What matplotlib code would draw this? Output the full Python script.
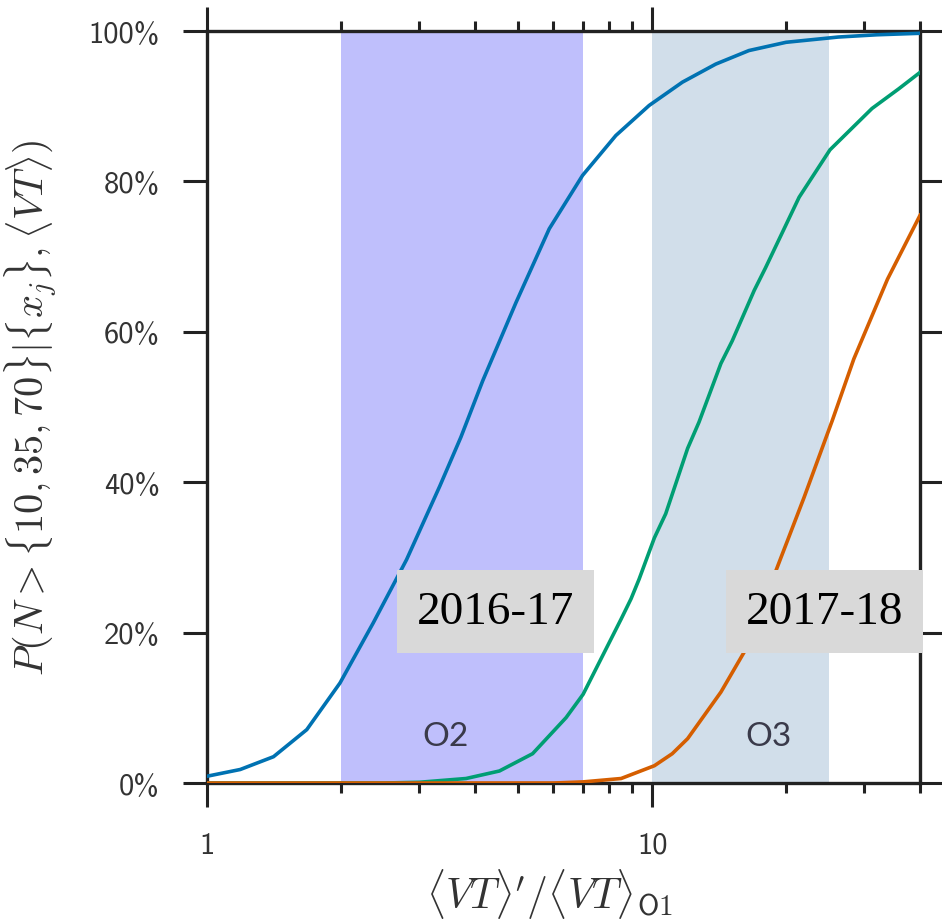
"""Probability of exceeding N detections vs. sensitive volume-time."""

import matplotlib

matplotlib.use("Agg")
import matplotlib.pyplot as plt
from matplotlib.ticker import FixedLocator, FuncFormatter, NullFormatter

plt.rcParams["mathtext.fontset"] = "cm"

# Curves: x = <VT>'/<VT>_O1, y = probability in %
blue_x = [1.0, 1.188, 1.411, 1.676, 1.99, 2.364, 2.808, 3.336, 3.72, 4.165, 4.947, 5.875,
          6.98, 8.29, 9.85, 11.7, 13.9, 16.5, 20.0, 26.2, 32.0, 40.0]
blue_y = [0.9, 1.8, 3.5, 7.1, 13.3, 21.3, 29.7, 39.5, 46.0, 53.5, 63.9, 73.7,
          80.8, 86.1, 90.1, 93.2, 95.6, 97.4, 98.5, 99.2, 99.5, 99.7]

green_x = [1.0, 2.5, 3.0, 3.82, 4.54, 5.39, 6.41, 7.0, 8.52, 8.97, 9.35, 10.12, 10.73,
           12.02, 12.75, 14.28, 15.14, 16.96, 17.98, 21.4, 25.1, 31.2, 35.8, 40.0]
green_y = [0.0, 0.0, 0.1, 0.6, 1.6, 3.9, 8.7, 11.8, 21.8, 24.5, 27.1, 32.6, 35.8,
           44.5, 48.0, 55.8, 58.8, 65.5, 68.5, 77.9, 84.2, 89.7, 92.3, 94.5]

orange_x = [1.0, 6.0, 7.0, 8.52, 10.12, 11.1, 12.02, 14.28, 16.1, 18.8, 21.96, 25.4,
            28.4, 33.8, 40.0]
orange_y = [0.0, 0.0, 0.15, 0.6, 2.3, 3.9, 5.9, 12.1, 17.4, 27.6, 38.0, 48.2,
            56.4, 67.0, 75.5]

# Observing-run bands
runs = ["O2", "O3"]
run_spans = [(2.0, 7.0), (10.0, 25.0)]
run_colors = ["#bfbffc", "#d1deea"]
run_label_x = [3.43, 18.3]

periods = ["2016-17", "2017-18"]
period_x = [4.45, 24.4]

ink = "#222222"

fig = plt.figure(figsize=(9.42, 9.2), dpi=100)
ax = fig.add_axes([0.2197, 0.1478, 0.757, 0.8174])

for (lo, hi), c in zip(run_spans, run_colors):
    ax.axvspan(lo, hi, color=c, lw=0, zorder=0)
for name, xr in zip(runs, run_label_x):
    ax.text(xr, 6.3, name, ha="center", va="center", fontsize=24,
            family="Lato", color="#3a3a4a", zorder=1)

ax.plot(blue_x, blue_y, color="#0072b2", lw=2.6, zorder=3)
ax.plot(green_x, green_y, color="#009e73", lw=2.6, zorder=3)
ax.plot(orange_x, orange_y, color="#d55e00", lw=2.6, zorder=3)

for name, xp in zip(periods, period_x):
    ax.text(xp, 22.8, name, ha="center", va="center", fontsize=34,
            family="Liberation Serif", color="black", zorder=5, clip_on=False,
            bbox=dict(boxstyle="square,pad=0.42", fc="#d9d9d9", ec="none"))

ax.set_xscale("log")
ax.set_xlim(1, 40)
ax.set_ylim(0, 100)

ax.xaxis.set_major_locator(FixedLocator([1, 10]))
ax.xaxis.set_minor_locator(FixedLocator([2, 3, 4, 5, 6, 7, 8, 9, 20, 30, 40]))
ax.xaxis.set_major_formatter(FuncFormatter(lambda v, p: f"{v:g}"))
ax.xaxis.set_minor_formatter(NullFormatter())
ax.set_yticks([0, 20, 40, 60, 80, 100])
ax.yaxis.set_major_formatter(FuncFormatter(lambda v, p: f"{v:.0f}%"))

ax.tick_params(which="both", direction="out", top=True, right=True,
               color=ink, width=2.2)
ax.tick_params(which="major", length=17)
ax.tick_params(which="minor", length=7)
ax.tick_params(axis="x", which="major", pad=18)
ax.tick_params(axis="y", which="major", pad=17)
for lbl in ax.get_xticklabels() + ax.get_yticklabels():
    lbl.set_family("cmss10")
    lbl.set_fontsize(22)
    lbl.set_color("#333333")

for sp in ax.spines.values():
    sp.set_color(ink)
    sp.set_linewidth(2.4)

ax.set_xlabel(r"$\langle VT\rangle'/\langle VT\rangle_{\mathsf{O1}}$", fontsize=30,
              color="#333333")
ax.xaxis.set_label_coords(0.481, -0.11)
ax.set_ylabel(r"$P(N > \{10, 35, 70\}|\{x_j\}, \langle VT\rangle)$", fontsize=29,
              color="#333333")
ax.yaxis.set_label_coords(-0.206, 0.5)

fig.savefig("out.png", dpi=100)
plt.close(fig)
